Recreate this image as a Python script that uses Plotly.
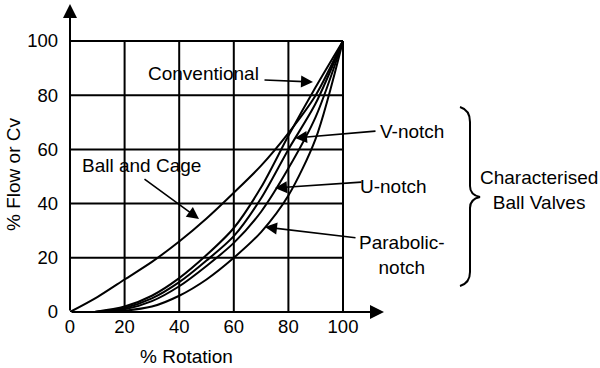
import plotly.graph_objects as go

# ---------------- data ----------------
rotation_bc = [0, 10, 20, 30, 40, 50, 60, 70, 80, 90, 100]
ball_and_cage = [0, 5.5, 12, 18.5, 26, 34.5, 44, 54, 66, 80, 100]

rotation_char = [9, 20, 30, 40, 50, 60, 70, 80, 90, 100]
conventional = [0, 2, 6, 12.5, 21, 31, 46, 65, 83, 100]
v_notch = [0, 1.5, 5, 11, 19, 28, 42, 60, 77, 100]
u_notch = [0, 1, 4, 9.5, 17, 25.5, 37, 53, 72, 100]
parabolic_notch = [0, 0.5, 2, 6, 12, 20, 29.5, 43, 64, 100]

tick_vals = [0, 20, 40, 60, 80, 100]
tick_text = ["0", "20", "40", "60", "80", "100"]

# ---------------- geometry helpers (reference-pixel based) ----------------
W, H = 600, 368
X0_PX, X100_PX = 70, 343
Y0_PX, Y100_PX = 312, 41
PLOT_L, PLOT_R, PLOT_T, PLOT_B = 70, 383, 5, 312


def dx(px):
    return (px - X0_PX) * 100.0 / (X100_PX - X0_PX)


def dy(py):
    return (Y0_PX - py) * 100.0 / (Y0_PX - Y100_PX)


def paper_x(px):
    return (px - PLOT_L) / (PLOT_R - PLOT_L)


def paper_y(py):
    return (PLOT_B - py) / (PLOT_B - PLOT_T)


XMAX = dx(PLOT_R)
YMAX = dy(PLOT_T)

FONT = "Liberation Sans, Arial, sans-serif"
TXT = dict(size=19, color="black", family=FONT)
TICK = dict(size=18.5, color="black", family=FONT)

fig = go.Figure()
line_style = dict(color="black", width=2, shape="spline", smoothing=0.8)
fig.add_trace(go.Scatter(x=rotation_bc, y=ball_and_cage, mode="lines", line=line_style,
                         name="Ball and Cage", cliponaxis=False, hoverinfo="skip"))
for name, vals in [("Conventional", conventional), ("V-notch", v_notch),
                   ("U-notch", u_notch), ("Parabolic-notch", parabolic_notch)]:
    fig.add_trace(go.Scatter(x=rotation_char, y=vals, mode="lines", line=line_style, name=name,
                             hoverinfo="skip"))

shapes = []
for v in tick_vals[1:]:
    shapes.append(dict(type="line", xref="x", yref="y", x0=v, x1=v, y0=0, y1=100,
                       line=dict(color="black", width=2), layer="below"))
    shapes.append(dict(type="line", xref="x", yref="y", x0=0, x1=100, y0=v, y1=v,
                       line=dict(color="black", width=2), layer="below"))

# curly brace
def pp(a, b):
    return f"{paper_x(a):.5f},{paper_y(b):.5f}"

path = (f"M {pp(460,107)} Q {pp(470,110)} {pp(470,122)} "
        f"L {pp(470,186)} Q {pp(470,195)} {pp(480,197)} "
        f"Q {pp(470,199)} {pp(470,208)} "
        f"L {pp(470,272)} Q {pp(470,283)} {pp(460,286)}")
shapes.append(dict(type="path", xref="paper", yref="paper", path=path,
                   line=dict(color="black", width=2)))

annotations = []
# axis lines with arrowheads (paper refs so the heads are never hidden)
annotations.append(dict(x=paper_x(384), y=paper_y(312), xref="paper", yref="paper",
                        ax=-(384 - 70), ay=0, axref="pixel", ayref="pixel",
                        text="", showarrow=True, arrowhead=2, arrowsize=1.4, arrowwidth=2,
                        arrowcolor="black"))
annotations.append(dict(x=paper_x(70), y=paper_y(4), xref="paper", yref="paper",
                        ax=0, ay=(312 - 4), axref="pixel", ayref="pixel",
                        text="", showarrow=True, arrowhead=2, arrowsize=1.4, arrowwidth=2,
                        arrowcolor="black"))

# pointer arrows (tail px, tip px)
pointers = [((263, 80), (313, 82)),
            ((377, 131), (295, 138)),
            ((363, 182), (275, 188)),
            ((357, 238), (265, 227)),
            ((143, 178), (199, 219))]
for (tx, ty), (hx, hy) in pointers:
    annotations.append(dict(x=paper_x(hx), y=paper_y(hy), xref="paper", yref="paper",
                            ax=tx - hx, ay=ty - hy, axref="pixel", ayref="pixel",
                            text="", showarrow=True, arrowhead=2,
                            arrowsize=1.5, arrowwidth=1.6, arrowcolor="black"))

labels = [("Conventional", 203, 73), ("V-notch", 412, 131), ("U-notch", 394, 186),
          ("Parabolic-<br>notch", 402, 255), ("Ball and Cage", 141, 165),
          ("Characterised<br>Ball Valves", 539, 190)]
for txt, px, py in labels:
    annotations.append(dict(x=paper_x(px), y=paper_y(py), xref="paper", yref="paper", text=txt,
                            showarrow=False, font=TXT, align="center",
                            xanchor="center", yanchor="middle"))

# axis titles
annotations.append(dict(x=paper_x(13), y=paper_y(175), xref="paper", yref="paper", text="% Flow or Cv",
                        textangle=-90, showarrow=False, font=TXT, xanchor="center", yanchor="middle"))
annotations.append(dict(x=paper_x(186), y=paper_y(356), xref="paper", yref="paper", text="% Rotation",
                        showarrow=False, font=TXT, xanchor="center", yanchor="middle"))

fig.update_layout(
    width=W, height=H,
    margin=dict(l=PLOT_L, r=W - PLOT_R, t=PLOT_T, b=H - PLOT_B, pad=0),
    paper_bgcolor="white", plot_bgcolor="white",
    showlegend=False, hovermode=False,
    shapes=shapes, annotations=annotations,
    font=TXT,
    xaxis=dict(range=[0, XMAX], tickvals=tick_vals, ticktext=tick_text, showgrid=False,
               zeroline=False, showline=False, ticks="", ticklabelstandoff=1, fixedrange=True,
               tickfont=TICK),
    yaxis=dict(range=[0, YMAX], tickvals=tick_vals, ticktext=tick_text, showgrid=False,
               zeroline=False, showline=False, ticks="", ticklabelstandoff=11, fixedrange=True,
               tickfont=TICK),
)

fig.write_html("out.html", config={"displayModeBar": False, "staticPlot": True},
               post_script="document.body.style.margin='0px';document.body.style.padding='0px';")
